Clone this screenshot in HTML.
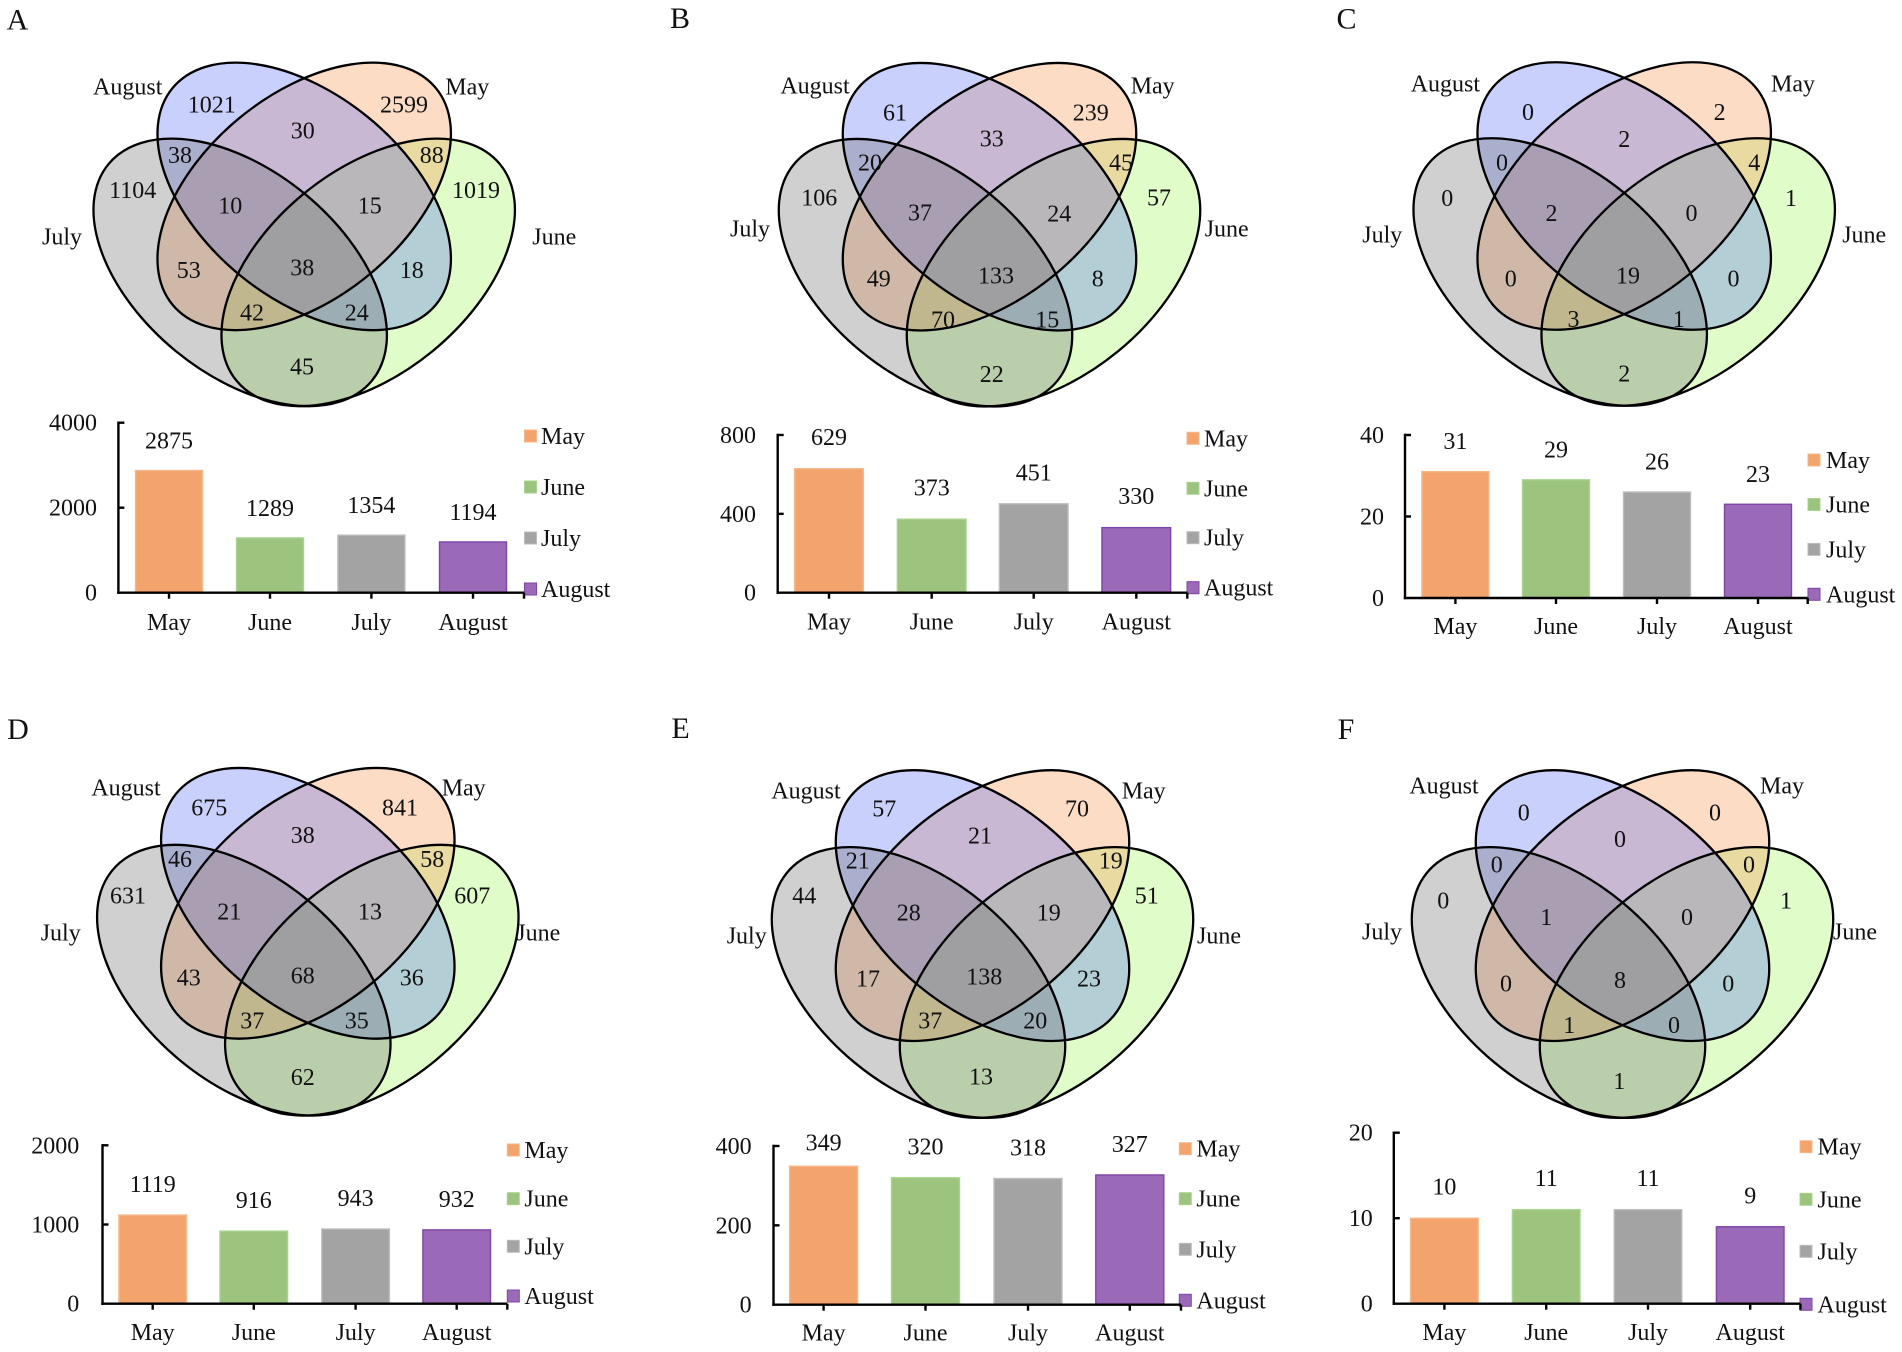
<!DOCTYPE html>
<html lang="en">
<head>
<meta charset="utf-8">
<title>Venn and bar chart panels A–F</title>
<style>
html,body{margin:0;padding:0;background:#fff;}
svg{display:block;filter:blur(.35px);}
text{font-family:"Liberation Serif","Times New Roman",serif;fill:#111;font-size:24px;}
</style>
</head>
<body>
<svg id="figure" xmlns="http://www.w3.org/2000/svg" width="1902" height="1352" viewBox="0 0 1902 1352"></svg>
<script>
// ---------- chart data ----------
const months = ['May', 'June', 'July', 'August'];
const valuesA = [2875, 1289, 1354, 1194];
const valuesB = [629, 373, 451, 330];
const valuesC = [31, 29, 26, 23];
const valuesD = [1119, 916, 943, 932];
const valuesE = [349, 320, 318, 327];
const valuesF = [10, 11, 11, 9];
const ticksA = [0, 2000, 4000];
const ticksB = [0, 400, 800];
const ticksC = [0, 20, 40];
const ticksD = [0, 1000, 2000];
const ticksE = [0, 200, 400];
const ticksF = [0, 10, 20];
// Venn counts, in the order of vennRegions
const vennRegions = ['august-only', 'may-only', 'july-only', 'june-only', 'august-may', 'august-july', 'may-june', 'august-may-july', 'august-may-june', 'all-four', 'may-july', 'august-june', 'may-june-july', 'august-june-july', 'june-july'];
const vennCountsA = [1021, 2599, 1104, 1019, 30, 38, 88, 10, 15, 38, 53, 18, 42, 24, 45];
const vennCountsB = [61, 239, 106, 57, 33, 20, 45, 37, 24, 133, 49, 8, 70, 15, 22];
const vennCountsC = [0, 2, 0, 1, 2, 0, 4, 2, 0, 19, 0, 0, 3, 1, 2];
const vennCountsD = [675, 841, 631, 607, 38, 46, 58, 21, 13, 68, 43, 36, 37, 35, 62];
const vennCountsE = [57, 70, 44, 51, 21, 21, 19, 28, 19, 138, 17, 23, 37, 20, 13];
const vennCountsF = [0, 0, 0, 1, 0, 0, 0, 1, 0, 8, 0, 0, 1, 0, 1];

// ---------- layout (no data values) ----------
const colors = { May: '#f2a46c', June: '#9cc47e', July: '#a3a3a3', August: '#9a6ab8' };
const edgeColors = { May: '#f5b88c', June: '#a9d48e', July: '#bdbdbd', August: '#7d45a8' };
const panels = [
  { id: 'A', letter: [17.5, 19.3], cx: 304.2, cy: 196.4, k: 1, values: valuesA, ticks: ticksA, counts: vennCountsA,
    spots: [[211.7,104.3],[404,104.3],[132.7,190],[476,190],[302.7,130.7],[180,155],[431.7,155],[230.3,205.7],[369.7,205.7],[302.3,267.7],[188.7,270],[411.7,270],[252,312.3],[356.7,312.3],[302,366.7]],
    names: [[127.7,86.7],[467.3,86.7],[62,236.7],[554.3,236.7]],
    axisX: 118.4, top: 422.7, y0: 592.7, slots: [169,270,371.4,473], end: 524, barW: 67, tickR: 97, xLabelY: 622, gap: 30, minY: 0,
    legX: 524.5, legY: [436,487,538,589], legTextX: 541 },
  { id: 'B', letter: [680, 18], cx: 989.5, cy: 196.7, k: 1, values: valuesB, ticks: ticksB, counts: vennCountsB,
    spots: [[895,112.3],[1090.7,112.3],[819.3,197.7],[1159,197.7],[991.7,138.3],[870,162.3],[1121,162.3],[920,212.7],[1059.3,213.3],[996,275.7],[878.7,278.3],[1097.7,278.3],[943,319.3],[1047.3,319.3],[991.7,374]],
    names: [[815,85.7],[1152.7,85.7],[750,228.3],[1226.7,228.3]],
    axisX: 777.7, top: 435, y0: 592.7, slots: [829,931.7,1033.7,1136.3], end: 1187.3, barW: 68.7, tickR: 756, xLabelY: 621.7, gap: 31.5, minY: 0,
    legX: 1187, legY: [438.3,488.3,537.7,587.7], legTextX: 1204 },
  { id: 'C', letter: [1346.5, 18.4], cx: 1624.2, cy: 196, k: 1, values: valuesC, ticks: ticksC, counts: vennCountsC,
    spots: [[1528,112.2],[1719.6,112.2],[1447.3,198],[1791,198],[1624.2,138.8],[1502,162.4],[1754.2,162.4],[1551.5,213],[1691.5,213],[1628,275.5],[1510.8,278.4],[1733.5,278.4],[1573.5,319.2],[1678.8,319.2],[1624.2,373.5]],
    names: [[1445.4,83.3],[1793,83.3],[1382.3,234.3],[1864.2,234.3]],
    axisX: 1405, top: 435, y0: 598, slots: [1455.4,1556,1657,1758], end: 1807.7, barW: 67, tickR: 1384, xLabelY: 626, gap: 30.5, minY: 0,
    legX: 1808, legY: [460,504.5,549.4,594.3], legTextX: 1826 },
  { id: 'D', letter: [18, 729], cx: 307.8, cy: 903.3, k: 1.012, values: valuesD, ticks: ticksD, counts: vennCountsD,
    spots: [[209.3,807.3],[400,807.3],[128,895.7],[472.3,895.7],[302.7,835],[180,859],[432.3,859],[229.3,911.7],[370,911.7],[302.7,975.7],[188.7,977.7],[411.7,977.7],[252.3,1020.7],[356.7,1020.7],[302.7,1077]],
    names: [[126,787.3],[463.7,787.3],[60.7,932.3],[538.3,932.3]],
    axisX: 102.5, top: 1145.3, y0: 1303.7, slots: [152.7,253.8,355.6,456.7], end: 507.3, barW: 67.6, tickR: 79.3, xLabelY: 1332, gap: 31, minY: 0,
    legX: 507.3, legY: [1150,1198.7,1246.3,1296], legTextX: 524.4 },
  { id: 'E', letter: [680.5, 728], cx: 982.5, cy: 905.6, k: 1.012, values: valuesE, ticks: ticksE, counts: vennCountsE,
    spots: [[884.3,808.3],[1077,808.3],[804.3,895.7],[1146.7,895.7],[980,835.7],[857.7,860.7],[1110.7,860.7],[908.7,912.3],[1048.7,912.3],[984.3,976.7],[868,978.3],[1089,978.3],[930.3,1020.7],[1035.3,1020.7],[981,1076.7]],
    names: [[806,790.7],[1143.7,790.7],[746.7,935.7],[1219,935.7]],
    axisX: 773.5, top: 1146, y0: 1304.7, slots: [823.6,925.5,1028,1129.8], end: 1181, barW: 68, tickR: 751.6, xLabelY: 1332.7, gap: 31, minY: 1142.7,
    legX: 1179.3, legY: [1148.7,1198.7,1249.3,1300.3], legTextX: 1196.4 },
  { id: 'F', letter: [1346, 729], cx: 1622.5, cy: 905.6, k: 1.012, values: valuesF, ticks: ticksF, counts: vennCountsF,
    spots: [[1523.7,812.3],[1715,812.3],[1443.3,900.3],[1786,900.3],[1620,839],[1496.7,864.3],[1749,864.3],[1546.3,917],[1687,917],[1620,980],[1506,983.3],[1728.3,983.3],[1569.3,1025],[1674,1025],[1619.3,1081]],
    names: [[1444,785.3],[1782,785.3],[1382,931.7],[1855,931.7]],
    axisX: 1393.8, top: 1132.7, y0: 1303.7, slots: [1444.4,1546.2,1648,1750.2], end: 1800.4, barW: 67.6, tickR: 1372.7, xLabelY: 1332, gap: 31.5, minY: 0,
    legX: 1800, legY: [1146.7,1199.3,1251.3,1304.3], legTextX: 1817.5 }
];
const vennSets = [
  { name: 'june', fill: 'rgba(152,245,75,.3)', dx: 64, dy: 76, rot: -39.4 },
  { name: 'may', fill: 'rgba(248,138,65,.3)', dx: 0, dy: 0, rot: -39.4 },
  { name: 'august', fill: 'rgba(75,98,242,.3)', dx: 0, dy: 0, rot: 39.4 },
  { name: 'july', fill: 'rgba(98,98,98,.3)', dx: -64, dy: 76, rot: 39.4 }
];
const vennNameOrder = ['August', 'May', 'July', 'June'];
const RX = 170.5, RY = 101.7, TEXT_DY = 8;
const NS = 'http://www.w3.org/2000/svg';
const root = document.getElementById('figure');

function make(parent, tag, props) {
  const el = document.createElementNS(NS, tag);
  for (const key in props) el.setAttribute(key, props[key]);
  parent.appendChild(el);
  return el;
}
function label(parent, x, y, str, anchor, name, size) {
  const el = make(parent, 'text', { x: x, y: y + TEXT_DY * (size ? size / 24 : 1), 'text-anchor': anchor || 'middle' });
  if (size) el.style.fontSize = size + 'px';
  el.textContent = str;
  
  
  return el;
}
function line(parent, x1, y1, x2, y2, width, name) {
  const el = make(parent, 'line', { x1: x1, y1: y1, x2: x2, y2: y2, stroke: '#000', 'stroke-width': width });
  
  
  return el;
}

function drawVenn(g, p) {
  const place = (s) => 'translate(' + (p.cx + s.dx) + ' ' + (p.cy + s.dy * p.k) + ') scale(1 ' + p.k + ') rotate(' + s.rot + ')';
  vennSets.forEach((s) => {
    const e = make(g, 'ellipse', { rx: RX, ry: RY, fill: s.fill, transform: place(s) });
    
    
  });
  vennSets.forEach((s) => {
    const e = make(g, 'ellipse', { rx: RX, ry: RY, fill: 'none', stroke: '#000', 'stroke-width': 2.3, transform: place(s) });
    
    
  });
  p.counts.forEach((count, i) => {
    label(g, p.spots[i][0], p.spots[i][1], count, 'middle', 'venn-count-' + vennRegions[i]);
  });
  vennNameOrder.forEach((n, i) => {
    label(g, p.names[i][0], p.names[i][1], n, 'middle', 'venn-label-' + n.toLowerCase());
  });
}

function drawBars(g, p) {
  const maxV = p.ticks[p.ticks.length - 1];
  const yScale = (v) => p.y0 - (v / maxV) * (p.y0 - p.top);
  months.forEach((m, i) => {
    const top = yScale(p.values[i]);
    const r = make(g, 'rect', { x: p.slots[i] - p.barW / 2, y: top, width: p.barW, height: p.y0 - top, fill: colors[m], stroke: edgeColors[m], 'stroke-width': 1.4 });
    
    
    let ly = top - p.gap;
    if (ly < p.minY) ly = p.minY;
    label(g, p.slots[i], ly, p.values[i], 'middle', 'bar-value-' + m.toLowerCase());
    label(g, p.slots[i], p.xLabelY, m, 'middle', 'x-tick-label-' + m.toLowerCase());
    line(g, p.slots[i], p.y0, p.slots[i], p.y0 + 6, 2.4, 'x-tick-' + m.toLowerCase());
    const sw = make(g, 'rect', { x: p.legX, y: p.legY[i] - 6, width: 12, height: 12, fill: colors[m], stroke: edgeColors[m], 'stroke-width': 1 });
    
    
    label(g, p.legTextX, p.legY[i], m, 'start', 'legend-label-' + m.toLowerCase());
  });
  line(g, p.axisX, p.top - 1.2, p.axisX, p.y0 + 1.2, 2.4, 'y-axis-line');
  line(g, p.axisX - 1.2, p.y0, p.end, p.y0, 2.4, 'x-axis-line');
  line(g, p.end, p.y0, p.end, p.y0 + 6, 2.4, 'x-axis-end-tick');
  p.ticks.forEach((t) => {
    const y = yScale(t);
    if (t !== 0) line(g, p.axisX, y, p.axisX + 6, y, 2.4, 'y-tick-' + t);
    label(g, p.tickR, y, t, 'end', 'y-tick-label-' + t);
  });
}

panels.forEach((p) => {
  const g = make(root, 'g', {});
  
  
  label(g, p.letter[0], p.letter[1], p.id, 'middle', 'panel-letter-' + p.id.toLowerCase(), 30);
  const venn = make(g, 'g', {});
  
  
  drawVenn(venn, p);
  const bars = make(g, 'g', {});
  
  
  drawBars(bars, p);
});
</script>
</body>
</html>
